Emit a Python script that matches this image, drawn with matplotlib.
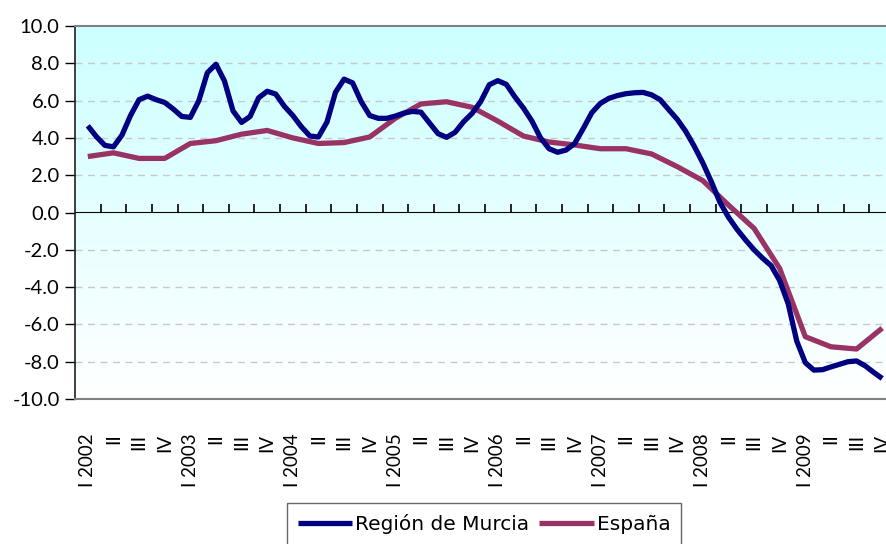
import matplotlib
matplotlib.use("Agg")
import matplotlib.pyplot as plt
import numpy as np
from matplotlib.colors import LinearSegmentedColormap

plt.rcParams['font.family'] = ['Lato', 'DejaVu Sans']
plt.rcParams['axes.unicode_minus'] = False

# Quarter labels (2002 Q1 .. 2009 Q4)
years = [2002, 2003, 2004, 2005, 2006, 2007, 2008, 2009]
quarter_names = ["I", "II", "III", "IV"]
quarter_labels = [f"{q} {y}" if q == "I" else q for y in years for q in quarter_names]

# España: quarterly values
espana = [3.0, 3.2, 2.9, 2.9, 3.7, 3.85, 4.2, 4.4, 4.0, 3.7, 3.75, 4.05,
          5.05, 5.82, 5.94, 5.64, 4.9, 4.1, 3.78, 3.62, 3.42, 3.42, 3.14, 2.46,
          1.71, 0.4, -0.85, -3.0, -6.66, -7.2, -7.32, -6.2]

# Región de Murcia: monthly values (3 per quarter)
murcia = [4.65, 4.07, 3.6, 3.52, 4.15, 5.2, 6.05, 6.24, 6.05, 5.9, 5.55, 5.15,
          5.1, 6.0, 7.5, 7.95, 7.05, 5.45, 4.83, 5.15, 6.15, 6.5, 6.35, 5.7,
          5.2, 4.6, 4.1, 4.05, 4.85, 6.45, 7.15, 6.95, 5.95, 5.2, 5.05, 5.05,
          5.17, 5.33, 5.42, 5.38, 4.8, 4.23, 4.03, 4.3, 4.87, 5.32, 5.95, 6.85,
          7.07, 6.87, 6.2, 5.6, 4.9, 4.0, 3.42, 3.23, 3.35, 3.7, 4.5, 5.35,
          5.85, 6.12, 6.27, 6.37, 6.42, 6.44, 6.31, 6.05, 5.52, 5.0, 4.35, 3.55,
          2.66, 1.65, 0.55, -0.25, -0.9, -1.47, -2.0, -2.45, -2.85, -3.65, -4.9, -6.9,
          -8.05, -8.45, -8.43, -8.28, -8.14, -8.0, -7.96, -8.22, -8.57, -8.9]

x_q = np.arange(len(espana))
x_m = np.arange(len(murcia)) / 3.0

fig = plt.figure(figsize=(8.86, 5.44), dpi=100)
ax = fig.add_axes([75/886, 145/544, 820/886, 373/544])

# gradient background
cmap = LinearSegmentedColormap.from_list("bg", ["#FFFFFF", "#CCFFFF"])
grad = np.linspace(0, 1, 256).reshape(-1, 1)
ax.imshow(grad, extent=[-0.5, 31.5, -10, 10], origin='lower', aspect='auto',
          cmap=cmap, zorder=0, interpolation='bicubic')

ax.set_xlim(-0.5, 31.5)
ax.set_ylim(-10, 10)

# grid lines
for v in [-8, -6, -4, -2, 2, 4, 6, 8]:
    ax.axhline(v, color='#C8C8C8', lw=1.0, ls=(0, (5, 4)), zorder=1)

ax.plot(x_m, murcia, color='#000080', lw=3.8, solid_joinstyle='round',
        solid_capstyle='butt', zorder=3, label='Región de Murcia')
ax.plot(x_q, espana, color='#993366', lw=3.8, solid_joinstyle='round',
        solid_capstyle='butt', zorder=2, label='España')

# y axis
ax.set_yticks(np.arange(-10, 10.1, 2))
ax.set_yticklabels([f"{v:.1f}" for v in np.arange(-10, 10.1, 2)], fontsize=14.5)
ax.tick_params(axis='y', length=7, width=1, color='#000000', pad=4)

# x axis labels at bottom
ax.set_xticks(x_q)
ax.set_xticklabels(quarter_labels, rotation=90, fontsize=13.5, va='top')
ax.tick_params(axis='x', length=0, pad=25)

for s in ['top', 'bottom', 'right']:
    ax.spines[s].set_color('#808080')
    ax.spines[s].set_linewidth(1.5)
ax.spines['left'].set_color('#202020')
ax.spines['left'].set_linewidth(1.2)

# axis line at zero with tick marks between categories
sec = ax.secondary_xaxis(0.5)
sec.set_xticks(np.arange(0.5, 31.5, 1.0))
sec.set_xticklabels([])
sec.tick_params(axis='x', direction='out', length=6, width=1.2, color='#000000')
sec.spines['bottom'].set_color('#707070')
sec.spines['bottom'].set_linewidth(1.5)

leg = fig.legend(loc='upper center', bbox_to_anchor=(484/886, 1 - 503/544),
                 ncol=2, frameon=True, fancybox=False,
                 prop={'family': ['DejaVu Sans'], 'size': 14.5},
                 handlelength=2.7, handletextpad=0.15, columnspacing=0.5,
                 borderpad=0.55, borderaxespad=0)
leg.get_frame().set_edgecolor('#404040')
leg.get_frame().set_linewidth(1.0)

fig.savefig("out.png", dpi=100)
